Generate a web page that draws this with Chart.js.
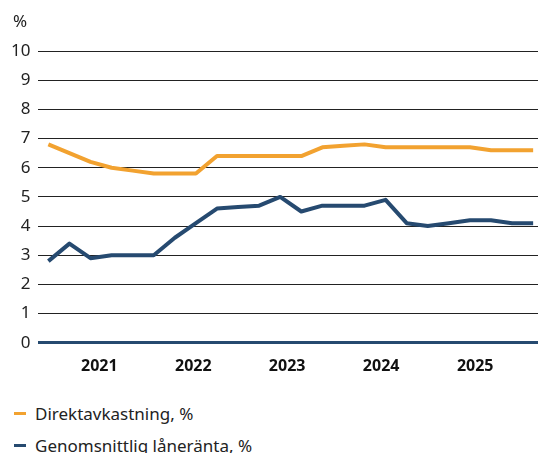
<!DOCTYPE html>
<html>
<head>
<meta charset="utf-8">
<script src="https://cdn.jsdelivr.net/npm/chart.js@4"></script>
<style>
  body { margin: 0; background: #fff; font-family: "Noto Sans", sans-serif; }
  #wrap { position: relative; width: 538px; height: 453px; overflow: hidden; }
  #chartBox { position: absolute; left: 0; top: 0; width: 538px; height: 382px; }
  #legend { position: absolute; left: 14px; top: 397px; }
  .item { display: flex; align-items: center; height: 32px; font-size: 17px; color: #222; }
  .mark { width: 12px; height: 3px; margin-right: 9px; }
</style>
</head>
<body>
<div id="wrap">
  <div id="chartBox"><canvas id="chart"></canvas></div>
  <div id="legend"></div>
</div>
<script>
// kvartalsvärden, index 0..23
const direktavkastning = [6.8, 6.5, 6.2, 6.0, 5.9, 5.8, 5.8, 5.8, 6.4, 6.4, 6.4, 6.4,
  6.4, 6.7, 6.75, 6.8, 6.7, 6.7, 6.7, 6.7, 6.7, 6.6, 6.6, 6.6];
const laneranta = [2.8, 3.4, 2.9, 3.0, 3.0, 3.0, 3.6, 4.1, 4.6, 4.65, 4.7, 5.0,
  4.5, 4.7, 4.7, 4.7, 4.9, 4.1, 4.0, 4.1, 4.2, 4.2, 4.1, 4.1];
const ar = ["2021", "2022", "2023", "2024", "2025"];
const arPos = [2.42, 6.88, 11.33, 15.79, 20.25];
const serier = ["Direktavkastning, %", "Genomsnittlig låneränta, %"];
const farger = ["#f2a230", "#264a70"];
const enhet = "%";

function tillPunkter(arr) {
  return arr.map((v, i) => ({ x: i, y: v }));
}

// enhetsetikett ovanför y-axeln
const enhetPlugin = {
  id: "enhet",
  afterDraw(chart) {
    const c = chart.ctx;
    c.save();
    c.font = "17px 'Noto Sans'";
    c.fillStyle = "#222";
    c.textBaseline = "middle";
    c.fillText(enhet, 13, 22);
    c.restore();
  }
};

const ctx = document.getElementById("chart");
new Chart(ctx, {
  type: "line",
  data: {
    datasets: [
      { label: serier[0], data: tillPunkter(direktavkastning), borderColor: farger[0], backgroundColor: farger[0] },
      { label: serier[1], data: tillPunkter(laneranta), borderColor: farger[1], backgroundColor: farger[1] }
    ]
  },
  options: {
    responsive: true,
    maintainAspectRatio: false,
    animation: false,
    layout: { padding: { left: 3, right: 0, top: 51, bottom: 0 } },
    elements: {
      point: { radius: 0 },
      line: { borderWidth: 4, tension: 0, borderJoinStyle: "round" }
    },
    plugins: {
      legend: { display: false },
      tooltip: { enabled: false }
    },
    scales: {
      x: {
        type: "linear",
        min: -0.47,
        max: 23.23,
        grid: { display: false },
        border: { display: false },
        afterBuildTicks: axis => { axis.ticks = arPos.map(v => ({ value: v })); },
        ticks: {
          autoSkip: false,
          maxRotation: 0,
          padding: 6,
          color: "#111",
          font: { family: "Noto Sans", size: 16, weight: "bold" },
          callback: (val, idx) => ar[idx]
        }
      },
      y: {
        min: 0,
        max: 10,
        border: { display: false },
        grid: {
          drawTicks: false,
          color: c => c.tick.value === 0 ? farger[1] : "#222",
          lineWidth: c => c.tick.value === 0 ? 3 : 1
        },
        ticks: {
          stepSize: 1,
          padding: 8,
          color: "#222",
          font: { family: "Noto Sans", size: 17 }
        }
      }
    }
  },
  plugins: [enhetPlugin]
});

const legend = document.getElementById("legend");
serier.forEach((namn, i) => {
  const item = document.createElement("div");
  item.className = "item";
  const mark = document.createElement("span");
  mark.className = "mark";
  mark.style.background = farger[i];
  const txt = document.createElement("span");
  txt.textContent = namn;
  item.appendChild(mark);
  item.appendChild(txt);
  legend.appendChild(item);
});
</script>
</body>
</html>
